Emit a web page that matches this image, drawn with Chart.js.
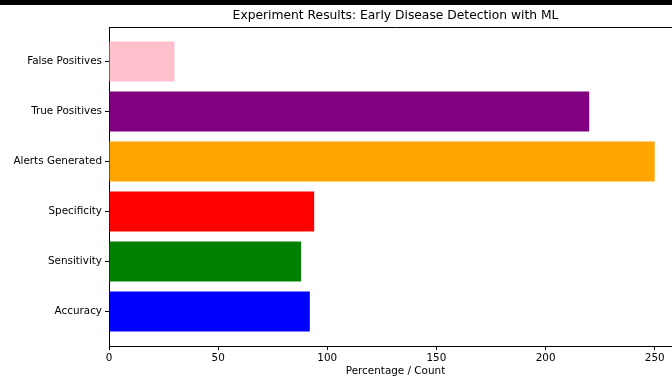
<!DOCTYPE html>
<html>
<head>
<meta charset="utf-8">
<script src="https://cdn.jsdelivr.net/npm/chart.js@4/dist/chart.umd.min.js"></script>
<style>
  html, body { margin: 0; padding: 0; background: #fff; overflow: hidden; }
  #wrap { position: relative; width: 672px; height: 378px; overflow: hidden; }
  #strip { position: absolute; left: 0; top: 0; width: 672px; height: 5px; background: #000; z-index: 2; }
  #box { position: absolute; left: 0; top: 0; width: 700px; height: 378px; }
</style>
</head>
<body>
<div id="wrap">
  <div id="strip"></div>
  <div id="box"><canvas id="chart" width="700" height="378"></canvas></div>
</div>
<script>
// Metrics, bottom to top as in the original plot
const categories = ['Accuracy', 'Sensitivity', 'Specificity', 'Alerts Generated', 'True Positives', 'False Positives'];
const values = [92, 88, 94, 250, 220, 30];
const barColors = ['blue', 'green', 'red', 'orange', 'purple', 'pink'];
const xTicks = [0, 50, 100, 150, 200, 250];
const chartTitle = 'Experiment Results: Early Disease Detection with ML';

const tickFont = { family: 'DejaVu Sans', size: 10.4 };

// matplotlib style frame (top + right spine) and title centred on the axes
const frame = {
  id: 'frame',
  afterDraw(chart) {
    const a = chart.chartArea, ctx = chart.ctx;
    ctx.save();
    ctx.strokeStyle = '#000';
    ctx.lineWidth = 1;
    ctx.beginPath();
    ctx.moveTo(a.left, Math.round(a.top) + 0.5);
    ctx.lineTo(a.right, Math.round(a.top) + 0.5);
    ctx.moveTo(Math.round(a.right) + 0.5, a.top);
    ctx.lineTo(Math.round(a.right) + 0.5, a.bottom);
    ctx.stroke();
    ctx.fillStyle = '#000';
    ctx.font = '12.3px "DejaVu Sans"';
    ctx.textAlign = 'center';
    ctx.textBaseline = 'middle';
    ctx.fillText(chartTitle, (a.left + a.right) / 2, 16);
    ctx.restore();
  }
};

new Chart(document.getElementById('chart'), {
  type: 'bar',
  data: {
    datasets: [{
      data: values.map((v, i) => ({ x: v, y: i })),
      backgroundColor: barColors,
      borderWidth: 0,
      barPercentage: 0.8,
      categoryPercentage: 1
    }]
  },
  options: {
    indexAxis: 'y',
    responsive: false,
    animation: false,
    layout: { padding: { left: 0, right: 18, top: 27, bottom: 0 } },
    plugins: {
      legend: { display: false },
      tooltip: { enabled: false }
    },
    scales: {
      x: {
        type: 'linear',
        min: 0,
        max: 262.5,
        afterBuildTicks: s => { s.ticks = xTicks.map(v => ({ value: v })); },
        afterFit: s => { s.height = 32; },
        grid: { drawOnChartArea: false, drawTicks: true, tickLength: 4, color: '#000' },
        border: { display: true, color: '#000', width: 1 },
        ticks: { color: '#000', font: tickFont, padding: 2, maxRotation: 0 },
        title: {
          display: true,
          text: 'Percentage / Count',
          color: '#000',
          font: tickFont,
          padding: { top: 1, bottom: 0 }
        }
      },
      y: {
        type: 'linear',
        min: -0.69,
        max: 5.69,
        offset: false,
        afterBuildTicks: s => { s.ticks = categories.map((c, i) => ({ value: i })); },
        afterFit: s => { s.width = 109; },
        grid: { offset: false, drawOnChartArea: false, drawTicks: true, tickLength: 4, color: '#000' },
        border: { display: true, color: '#000', width: 1 },
        ticks: {
          color: '#000',
          font: tickFont,
          padding: 3,
          callback: v => categories[v]
        }
      }
    }
  },
  plugins: [frame]
});
</script>
</body>
</html>
